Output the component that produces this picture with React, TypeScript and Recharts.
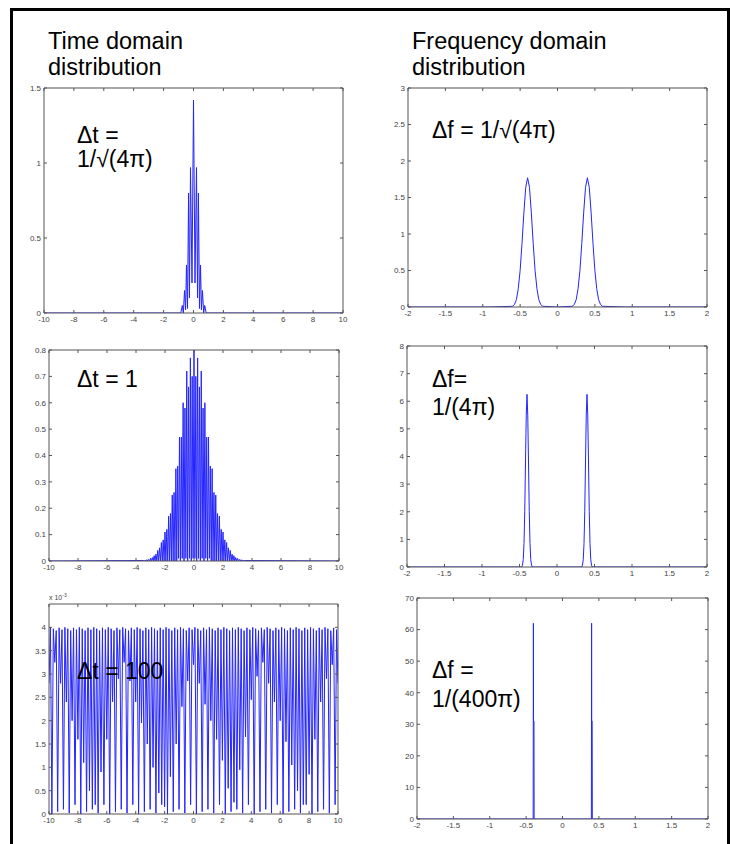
import { LineChart, Line, XAxis, YAxis } from "recharts";

// time domain, Δt = 1/√(4π)
const t1X = [-10, -2.3, -0.85, -0.75, -0.68, -0.6, -0.53, -0.47, -0.4, -0.33, -0.27, -0.2, -0.1, 0,
  0.1, 0.2, 0.27, 0.33, 0.4, 0.47, 0.53, 0.6, 0.68, 0.75, 0.85, 2.3, 10];
const t1Y = [0, 0, 0, 0.05, 0, 0.15, 0.02, 0.32, 0.03, 0.8, 0.1, 0.97, 0.2, 1.42,
  0.2, 0.97, 0.1, 0.8, 0.03, 0.32, 0.02, 0.15, 0, 0.05, 0, 0, 0];

// time domain, Δt = 1 (samples from -3.5 every 0.0625)
const t2Start = -3.5;
const t2Step = 0.0625;
const t2Y = [
  0.002, 0, 0.003, 0, 0.005, 0, 0.006, 0,
  0.01, 0, 0.013, 0, 0.02, 0, 0.026, 0,
  0.04, 0, 0.05, 0, 0.07, 0, 0.08, 0,
  0.11, 0, 0.12, 0, 0.17, 0, 0.18, 0,
  0.25, 0, 0.26, 0, 0.35, 0, 0.36, 0.01,
  0.47, 0, 0.47, 0.01, 0.6, 0, 0.58, 0.01,
  0.72, 0, 0.66, 0.01, 0.77, 0, 0.7, 0.01,
  0.8,
  0.01, 0.7, 0, 0.77, 0.01, 0.66, 0, 0.72,
  0.01, 0.58, 0, 0.6, 0.01, 0.47, 0, 0.47,
  0.01, 0.36, 0, 0.35, 0, 0.26, 0, 0.25,
  0, 0.18, 0, 0.17, 0, 0.12, 0, 0.11,
  0, 0.08, 0, 0.07, 0, 0.05, 0, 0.04,
  0, 0.026, 0, 0.02, 0, 0.013, 0, 0.01,
  0, 0.006, 0, 0.005, 0, 0.003, 0, 0.002,
];

// time domain, Δt = 100 (x 10^-3, samples from -10 every 0.1)
const t3Start = -10;
const t3Step = 0.1;
const t3Y = [
  2.8,
  4, 0, 3.97, 3.25, 3.93, 0.05, 3.99, 2.8, 3.95, 0.1, 4, 2.4, 3.97, 0.02, 3.93, 2.0, 3.99, 0.2, 3.95, 1.6,
  4, 0, 3.97, 1.1, 3.93, 0.05, 3.99, 0.5, 3.95, 0.1, 4, 0.2, 3.97, 0.02, 3.93, 0.9, 3.99, 0.2, 3.95, 1.6,
  4, 0, 3.97, 2.4, 3.93, 0.05, 3.99, 2.9, 3.95, 0.1, 4, 3.25, 3.97, 0.02, 3.93, 2.85, 3.99, 0.2, 3.95, 2.4,
  4, 0, 3.97, 1.95, 3.93, 0.05, 3.99, 1.5, 3.95, 0.1, 4, 1.0, 3.97, 0.02, 3.93, 0.45, 3.99, 0.2, 3.95, 0.15,
  4, 0, 3.97, 0.8, 3.93, 0.05, 3.99, 1.5, 3.95, 0.1, 4, 2.3, 3.97, 0.02, 3.93, 2.85, 3.99, 0.2, 3.95, 3.2,
  4, 0, 3.97, 2.8, 3.93, 0.05, 3.99, 2.35, 3.95, 0.1, 4, 2.0, 3.97, 0.02, 3.93, 1.6, 3.99, 0.2, 3.95, 1.15,
  4, 0, 3.97, 0.55, 3.93, 0.05, 3.99, 0.25, 3.95, 0.1, 4, 0.95, 3.97, 0.02, 3.93, 1.65, 3.99, 0.2, 3.95, 2.45,
  4, 0, 3.97, 2.95, 3.93, 0.05, 3.99, 3.25, 3.95, 0.1, 4, 2.8, 3.97, 0.02, 3.93, 2.4, 3.99, 0.2, 3.95, 2.0,
  4, 0, 3.97, 1.55, 3.93, 0.05, 3.99, 1.05, 3.95, 0.1, 4, 0.5, 3.97, 0.02, 3.93, 0.2, 3.99, 0.2, 3.95, 0.85,
  4, 0, 3.97, 1.6, 3.93, 0.05, 3.99, 2.4, 3.95, 0.1, 4, 2.9, 3.97, 0.02, 3.93, 3.2, 3.99, 0.2, 3.95, 2.8,
];

// frequency domain, Δf = 1/√(4π)
const f1X = [-2, -0.9, -0.6, -0.575, -0.55, -0.525, -0.5, -0.475, -0.45, -0.425, -0.4, -0.375, -0.35, -0.325, -0.3, -0.275, -0.25, -0.225, -0.2, 0,
  0.2, 0.225, 0.25, 0.275, 0.3, 0.325, 0.35, 0.375, 0.4, 0.425, 0.45, 0.475, 0.5, 0.525, 0.55, 0.575, 0.6, 0.9, 2];
const f1Y = [0, 0, 0.01, 0.037, 0.1, 0.25, 0.5, 0.87, 1.29, 1.64, 1.77, 1.64, 1.29, 0.87, 0.5, 0.25, 0.1, 0.037, 0.01, 0,
  0.01, 0.037, 0.1, 0.25, 0.5, 0.87, 1.29, 1.64, 1.77, 1.64, 1.29, 0.87, 0.5, 0.25, 0.1, 0.037, 0.01, 0, 0];

// frequency domain, Δf = 1/(4π)
const f2X = [-2, -0.9, -0.47, -0.46, -0.45, -0.44, -0.43, -0.42, -0.41, -0.4, -0.39, -0.38, -0.37, -0.36, -0.35, -0.34, -0.33, 0,
  0.33, 0.34, 0.35, 0.36, 0.37, 0.38, 0.39, 0.4, 0.41, 0.42, 0.43, 0.44, 0.45, 0.46, 0.47, 0.9, 2];
const f2Y = [0, 0, 0, 0.07, 0.27, 0.85, 2.0, 3.8, 5.5, 6.25, 5.5, 3.8, 2.0, 0.85, 0.27, 0.07, 0, 0,
  0, 0.07, 0.27, 0.85, 2.0, 3.8, 5.5, 6.25, 5.5, 3.8, 2.0, 0.85, 0.27, 0.07, 0, 0, 0];

// frequency domain, Δf = 1/(400π)
const f3X = [-2, -0.403, -0.4, -0.398, -0.392, -0.39, 0.397, 0.4, 0.402, 0.408, 0.41, 2];
const f3Y = [0, 0, 62, 31, 31, 0, 0, 62, 31, 31, 0, 0];

const timeTicks = [-10, -8, -6, -4, -2, 0, 2, 4, 6, 8, 10];
const freqTicks = [-2, -1.5, -1, -0.5, 0, 0.5, 1, 1.5, 2];
const yTicks1 = [0, 0.5, 1, 1.5];
const yTicks2 = [0, 0.1, 0.2, 0.3, 0.4, 0.5, 0.6, 0.7, 0.8];
const yTicks3 = [0, 0.5, 1, 1.5, 2, 2.5, 3, 3.5, 4];
const yTicksF1 = [0, 0.5, 1, 1.5, 2, 2.5, 3];
const yTicksF2 = [0, 1, 2, 3, 4, 5, 6, 7, 8];
const yTicksF3 = [0, 10, 20, 30, 40, 50, 60, 70];

const zip = (xs: number[], ys: number[]) => xs.map((x, i) => ({ x, y: ys[i] }));
const grid = (start: number, step: number, ys: number[]) =>
  ys.map((y, i) => ({ x: +(start + i * step).toFixed(4), y }));

const AXIS = "#555";
const LINE = "#2424ff";
const FONT = "'Liberation Sans', Arial, sans-serif";
const tickStyle = { fontSize: 8, fill: "#444", fontFamily: FONT };
const Blank = () => null;

type PanelProps = {
  box: number[];
  data: { x: number; y: number }[];
  xDomain: number[];
  xTicks: number[];
  yDomain: number[];
  yTicks: number[];
};

function Panel({ box, data, xDomain, xTicks, yDomain, yTicks }: PanelProps) {
  const [x0, y0, x1, y1] = box;
  // top / right axes are 1px wide so they still get drawn (box + inner ticks)
  const yw = 30, mt = 5, mr = 5, xh = 18;
  const w = yw + (x1 - x0) + 1 + mr;
  const h = mt + 1 + (y1 - y0) + xh;
  return (
    <div style={{ position: "absolute", left: x0 - yw, top: y0 - mt - 1 }}>
      <LineChart width={w} height={h} data={data} margin={{ top: mt, right: mr, left: 0, bottom: 0 }}>
        <XAxis xAxisId="b" dataKey="x" type="number" domain={xDomain} ticks={xTicks} interval={0}
          allowDataOverflow height={xh} tickSize={-3} tickMargin={6} tick={tickStyle} stroke={AXIS} />
        <XAxis xAxisId="t" orientation="top" dataKey="x" type="number" domain={xDomain} ticks={xTicks}
          interval={0} allowDataOverflow height={1} tickSize={-3} tick={Blank} stroke={AXIS} />
        <YAxis yAxisId="l" type="number" domain={yDomain} ticks={yTicks} interval={0} allowDataOverflow
          width={yw} tickSize={-3} tickMargin={6} tick={tickStyle} stroke={AXIS} />
        <YAxis yAxisId="r" orientation="right" type="number" domain={yDomain} ticks={yTicks} interval={0}
          allowDataOverflow width={1} tickSize={-3} tick={Blank} stroke={AXIS} />
        <Line xAxisId="b" yAxisId="l" dataKey="y" type="linear" stroke={LINE} strokeWidth={1}
          dot={false} isAnimationActive={false} />
      </LineChart>
    </div>
  );
}

export default function App() {
  const t2Data = [{ x: -10, y: 0 }, ...grid(t2Start, t2Step, t2Y), { x: 10, y: 0 }];
  return (
    <div style={{ position: "absolute", left: 0, top: 0, width: 731, height: 844, overflow: "hidden", background: "#fff" }}>
      <div style={{ position: "absolute", left: 10, top: 8, width: 720, height: 860, border: "3px solid #000", boxSizing: "border-box" }} />
      <Panel box={[44, 88, 343, 313]} data={zip(t1X, t1Y)} xDomain={[-10, 10]} xTicks={timeTicks} yDomain={[0, 1.5]} yTicks={yTicks1} />
      <Panel box={[408, 88, 707, 307]} data={zip(f1X, f1Y)} xDomain={[-2, 2]} xTicks={freqTicks} yDomain={[0, 3]} yTicks={yTicksF1} />
      <Panel box={[49, 350, 339, 561]} data={t2Data} xDomain={[-10, 10]} xTicks={timeTicks} yDomain={[0, 0.8]} yTicks={yTicks2} />
      <Panel box={[407, 346, 707, 567]} data={zip(f2X, f2Y)} xDomain={[-2, 2]} xTicks={freqTicks} yDomain={[0, 8]} yTicks={yTicksF2} />
      <Panel box={[49, 604, 338, 814]} data={grid(t3Start, t3Step, t3Y)} xDomain={[-10, 10]} xTicks={timeTicks} yDomain={[0, 4.5]} yTicks={yTicks3} />
      <Panel box={[417, 598, 708, 819]} data={zip(f3X, f3Y)} xDomain={[-2, 2]} xTicks={freqTicks} yDomain={[0, 70]} yTicks={yTicksF3} />
      <svg width={731} height={844} style={{ position: "absolute", left: 0, top: 0, pointerEvents: "none" }}
        fontFamily={FONT} fill="#000">
        <text x={48} y={49} fontSize={23.5}>Time domain</text>
        <text x={48} y={75} fontSize={23.5}>distribution</text>
        <text x={412} y={49} fontSize={23.5}>Frequency domain</text>
        <text x={412} y={75} fontSize={23.5}>distribution</text>
        <text x={77} y={143} fontSize={23}>Δt =</text>
        <text x={77} y={167} fontSize={23}>1/√(4π)</text>
        <text x={432} y={138} fontSize={23}>Δf = 1/√(4π)</text>
        <text x={77} y={387} fontSize={23}>Δt = 1</text>
        <text x={432} y={387} fontSize={23}>Δf=</text>
        <text x={432} y={415} fontSize={23}>1/(4π)</text>
        <text x={77} y={679} fontSize={23}>Δt = 100</text>
        <text x={432} y={678} fontSize={23}>Δf =</text>
        <text x={432} y={707} fontSize={23}>1/(400π)</text>
        <text x={49} y={600} fontSize={7} fill="#444">
          x 10<tspan dy={-3} fontSize={5}>-3</tspan>
        </text>
      </svg>
    </div>
  );
}
